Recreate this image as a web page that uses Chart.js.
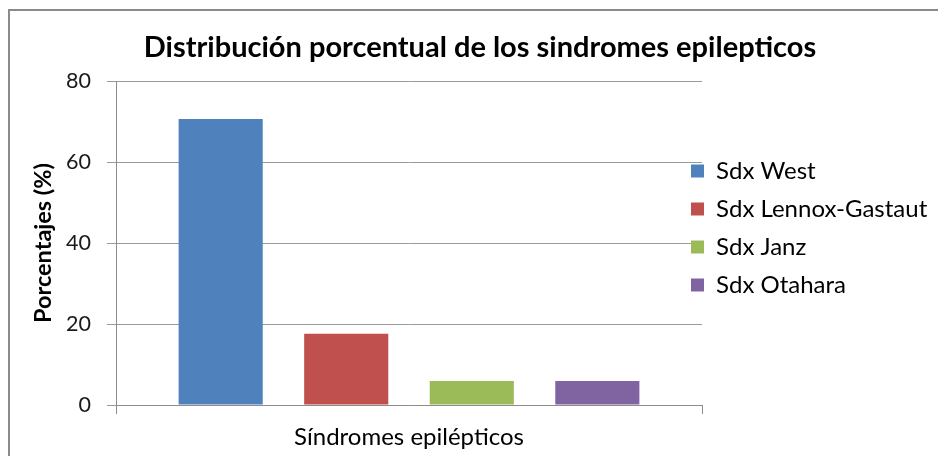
<!DOCTYPE html>
<html>
<head>
<meta charset="utf-8">
<script src="https://cdn.jsdelivr.net/npm/chart.js@4.4.1/dist/chart.umd.min.js"></script>
<style>
  html, body { margin: 0; padding: 0; background: #fff; }
  #wrap { width: 938px; height: 456px; }
</style>
</head>
<body>
<div id="wrap"><canvas id="chart" width="938" height="456"></canvas></div>
<script>
/*===================================================================
   Data
==================================================================*/
const categories = ['']
const seriesNames = ['Sdx West', 'Sdx Lennox-Gastaut', 'Sdx Janz', 'Sdx Otahara']
const seriesValues = [70.6, 17.6, 5.9, 5.9]
const seriesColors = ['#4F81BD', '#C0504D', '#9BBB59', '#8064A2']
const yTicks = [0, 20, 40, 60, 80]

const chartTitle = 'Distribución porcentual de los sindromes epilepticos'
const yTitle = 'Porcentajes (%)'
const xTitle = 'Síndromes epilépticos'

const FONT = 'Lato, "Liberation Sans", sans-serif'
Chart.defaults.color = '#1a1a1a'
Chart.defaults.font.family = FONT

/*===================================================================
   Plugins: white page + frame, legend nudge
==================================================================*/
const framePlugin = {
  id: 'frame',
  beforeDraw(chart) {
    const ctx = chart.ctx
    ctx.save()
    ctx.fillStyle = '#fff'
    ctx.fillRect(0, 0, chart.width, chart.height)
    ctx.strokeStyle = '#8a8a8a'
    ctx.lineWidth = 2
    ctx.beginPath()
    ctx.moveTo(9, chart.height)
    ctx.lineTo(9, 10)
    ctx.lineTo(chart.width, 10)
    ctx.stroke()
    ctx.restore()
  }
}

const legendShift = {
  id: 'legendShift',
  afterLayout(chart) {
    // excel legend sits a bit over the plot's right edge
    const pad = chart.options.plugins.legend.labels.padding
    chart.legend.left = 691 - pad
  }
}

/*===================================================================
   Chart
==================================================================*/
const datasets = seriesNames.map((name, i) => ({
  label: name,
  data: [seriesValues[i]],
  backgroundColor: seriesColors[i],
  borderWidth: 0,
  categoryPercentage: 0.857,
  barPercentage: 0.67
}))

new Chart(document.getElementById('chart'), {
  type: 'bar',
  data: { labels: categories, datasets },
  plugins: [framePlugin, legendShift],
  options: {
    responsive: false,
    animation: false,
    layout: { padding: { left: 22, right: 0, top: 0, bottom: 0 } },
    plugins: {
      title: {
        display: true,
        text: chartTitle,
        color: '#000',
        font: { size: 29, weight: 'bold', family: FONT },
        padding: { top: 30.6, bottom: 15.6 }
      },
      legend: {
        position: 'right',
        maxWidth: 236,
        labels: {
          boxWidth: 13,
          boxHeight: 13,
          padding: 14,
          color: '#000',
          font: { size: 24, family: FONT }
        }
      },
      tooltip: { enabled: false }
    },
    scales: {
      x: {
        afterFit(scale) { scale.height = 51 },
        ticks: { display: false },
        grid: { drawOnChartArea: false, tickLength: 9, color: '#8c8c8c' },
        border: { color: '#8c8c8c' },
        title: {
          display: true,
          text: xTitle,
          color: '#000',
          font: { size: 24, family: FONT },
          padding: { top: 7, bottom: 4.6 }
        }
      },
      y: {
        min: 0,
        max: 80,
        afterFit(scale) { scale.width = 94 },
        afterBuildTicks(scale) { scale.ticks = yTicks.map(v => ({ value: v })) },
        ticks: { padding: 16, color: '#1a1a1a', font: { size: 21.5, family: FONT } },
        grid: { tickLength: 9, color: '#9a9a9a' },
        border: { color: '#8c8c8c' },
        title: {
          display: true,
          text: yTitle,
          color: '#000',
          font: { size: 23.5, weight: 'bold', family: FONT },
          padding: { top: 6.9, bottom: 0 }
        }
      }
    }
  }
})
</script>
</body>
</html>
